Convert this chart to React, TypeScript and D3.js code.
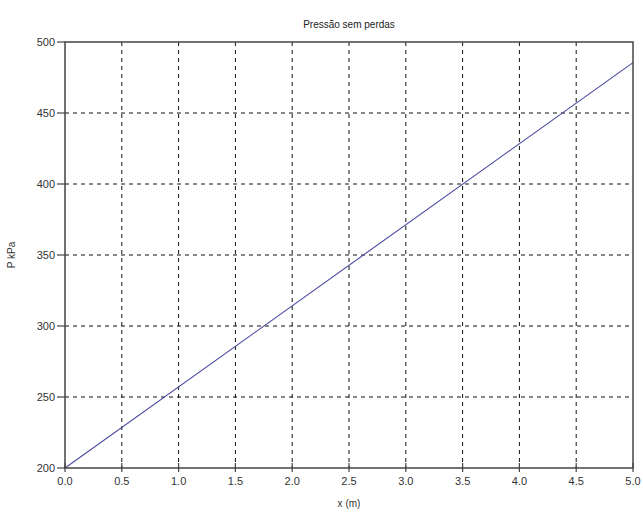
import { scaleLinear, line as d3Line, range } from "d3";

const TITLE = "Pressão sem perdas";
const X_LABEL = "x (m)";
const Y_LABEL = "P kPa";

// values
const xValues = [0, 5];
const pValues = [200, 485.5];

const xTicks = range(0, 5.01, 0.5);
const yTicks = [200, 250, 300, 350, 400, 450, 500];

const WIDTH = 643;
const HEIGHT = 512;
const MARGIN = { top: 42, right: 10, bottom: 44, left: 65 } as const;

export default function App() {
  const innerWidth = WIDTH - MARGIN.left - MARGIN.right;
  const innerHeight = HEIGHT - MARGIN.top - MARGIN.bottom;

  const xScale = scaleLinear().domain([0, 5]).range([0, innerWidth]);
  const yScale = scaleLinear().domain([200, 500]).range([innerHeight, 0]);

  const points = xValues.map((x, i) => ({ x, p: pValues[i] }));
  const path =
    d3Line<{ x: number; p: number }>()
      .x((d) => xScale(d.x))
      .y((d) => yScale(d.p))(points) ?? "";

  const font = "'Liberation Sans', Arial, sans-serif";

  return (
    <svg
      width={WIDTH}
      height={HEIGHT}
      style={{ position: "absolute", left: 0, top: 0, background: "#fff" }}
    >
      <rect width={WIDTH} height={HEIGHT} fill="#fff" />
      <text
        x={MARGIN.left + innerWidth / 2}
        y={28}
        textAnchor="middle"
        fontFamily={font}
        fontSize={10}
        fill="#222"
      >
        {TITLE}
      </text>
      <g transform={`translate(${MARGIN.left},${MARGIN.top})`}>
        {/* grid */}
        {xTicks.slice(1, -1).map((t) => (
          <line
            key={`gx${t}`}
            x1={xScale(t)}
            x2={xScale(t)}
            y1={0}
            y2={innerHeight}
            stroke="#111"
            strokeWidth={1}
            strokeDasharray="4,4"
          />
        ))}
        {yTicks.slice(1, -1).map((t) => (
          <line
            key={`gy${t}`}
            x1={0}
            x2={innerWidth}
            y1={yScale(t)}
            y2={yScale(t)}
            stroke="#111"
            strokeWidth={1}
            strokeDasharray="4,4"
          />
        ))}
        <path d={path} fill="none" stroke="#4a4aa0" strokeWidth={1.1} />
        <rect
          width={innerWidth}
          height={innerHeight}
          fill="none"
          stroke="#444"
          strokeWidth={1.5}
        />
        {/* x ticks */}
        {xTicks.map((t) => (
          <g key={`tx${t}`} transform={`translate(${xScale(t)},${innerHeight})`}>
            <line y1={-5} y2={4} stroke="#444" strokeWidth={1.2} />
            <text
              y={17}
              textAnchor="middle"
              fontFamily={font}
              fontSize={11}
              fill="#333"
            >
              {t.toFixed(1)}
            </text>
          </g>
        ))}
        {/* y ticks */}
        {yTicks.map((t) => (
          <g key={`ty${t}`} transform={`translate(0,${yScale(t)})`}>
            <line x1={-8} x2={0} stroke="#444" strokeWidth={1.2} />
            <text
              x={-10}
              dy="0.35em"
              textAnchor="end"
              fontFamily={font}
              fontSize={11}
              fill="#333"
            >
              {t}
            </text>
          </g>
        ))}
      </g>
      <text
        x={MARGIN.left + innerWidth / 2}
        y={507}
        textAnchor="middle"
        fontFamily={font}
        fontSize={10}
        fill="#333"
      >
        {X_LABEL}
      </text>
      <text
        transform={`translate(15,${MARGIN.top + innerHeight / 2}) rotate(-90)`}
        textAnchor="middle"
        fontFamily={font}
        fontSize={10}
        fill="#333"
      >
        {Y_LABEL}
      </text>
    </svg>
  );
}
